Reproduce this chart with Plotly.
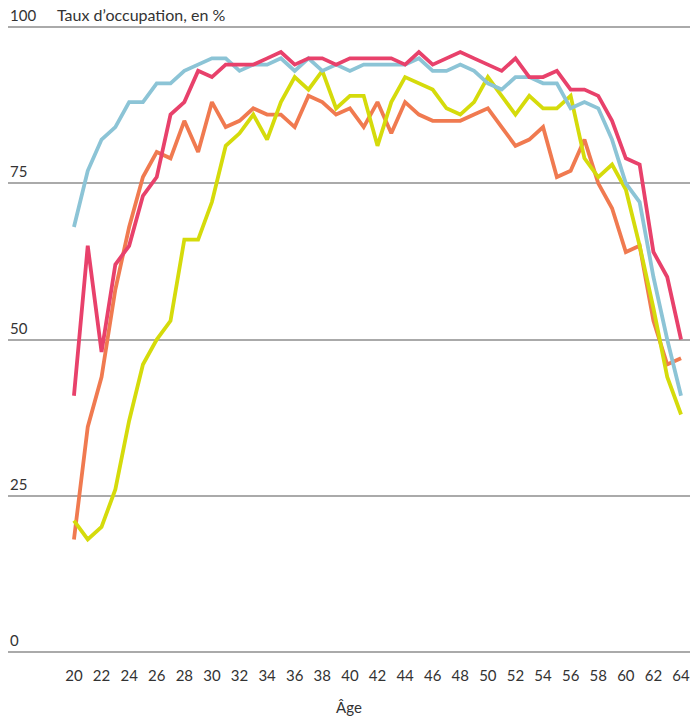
import plotly.graph_objects as go

ages = list(range(20, 65))

red = [41, 65, 48, 62, 65, 73, 76, 86, 88, 93, 92, 94, 94, 94, 95, 96, 94, 95, 95, 94,
       95, 95, 95, 95, 94, 96, 94, 95, 96, 95, 94, 93, 95, 92, 92, 93, 90, 90, 89, 85,
       79, 78, 64, 60, 50]
blue = [68, 77, 82, 84, 88, 88, 91, 91, 93, 94, 95, 95, 93, 94, 94, 95, 93, 95, 93, 94,
        93, 94, 94, 94, 94, 95, 93, 93, 94, 93, 91, 90, 92, 92, 91, 91, 87, 88, 87, 82,
        75, 72, 60, 50, 41]
yellow = [21, 18, 20, 26, 37, 46, 50, 53, 66, 66, 72, 81, 83, 86, 82, 88, 92, 90, 93, 87,
          89, 89, 81, 88, 92, 91, 90, 87, 86, 88, 92, 89, 86, 89, 87, 87, 89, 79, 76, 78,
          74, 65, 55, 44, 38]
orange = [18, 36, 44, 58, 68, 76, 80, 79, 85, 80, 88, 84, 85, 87, 86, 86, 84, 89, 88, 86,
          87, 84, 88, 83, 88, 86, 85, 85, 85, 86, 87, 84, 81, 82, 84, 76, 77, 82, 75, 71,
          64, 65, 53, 46, 47]

series = [
    ("Série A", orange, "#F07A50"),
    ("Série B", yellow, "#D5DB0B"),
    ("Série C", blue, "#8CC4D6"),
    ("Série D", red, "#E8416B"),
]

y_ticks = [0, 25, 50, 75, 100]
y_labels = ["0", "25", "50", "75", "100"]
x_ticks = list(range(20, 65, 2))

fig = go.Figure()
for name, vals, col in series:
    fig.add_trace(go.Scatter(x=ages, y=vals, mode="lines", name=name,
                             line=dict(color=col, width=3.8)))

font = "Lato, 'Noto Sans', sans-serif"
txt = "#333333"

annotations = [dict(text=lab, xref="paper", yref="y", x=0, y=v,
                    xanchor="left", yanchor="bottom", showarrow=False, yshift=1,
                    font=dict(size=15, color=txt))
               for v, lab in zip(y_ticks, y_labels)]
annotations.append(dict(text="Taux d’occupation, en %", xref="paper", yref="y",
                        x=0.069, y=100, xanchor="left", yanchor="bottom",
                        showarrow=False, yshift=1, font=dict(size=16, color=txt)))

fig.update_layout(
    width=691, height=720,
    margin=dict(l=8, r=1, t=24, b=65),
    paper_bgcolor="white", plot_bgcolor="white",
    showlegend=False,
    font=dict(family=font, size=15, color=txt),
    xaxis=dict(range=[15.22, 64.65], tickvals=x_ticks, showgrid=False,
               zeroline=False, showline=False, ticks="", automargin=False,
               ticklabelstandoff=10,
               tickfont=dict(size=15, color=txt),
               title=dict(text="Âge", font=dict(size=15, color=txt), standoff=19)),
    yaxis=dict(range=[-0.5, 100.5], tickvals=y_ticks, showticklabels=False,
               showgrid=True, gridcolor="#AAAAAA", gridwidth=1.5, zeroline=False,
               showline=False, ticks="", automargin=False),
    annotations=annotations,
)

fig.write_html("out.html",
               config={"displayModeBar": False},
               post_script="document.body.style.margin='0';document.body.style.overflow='hidden';")
